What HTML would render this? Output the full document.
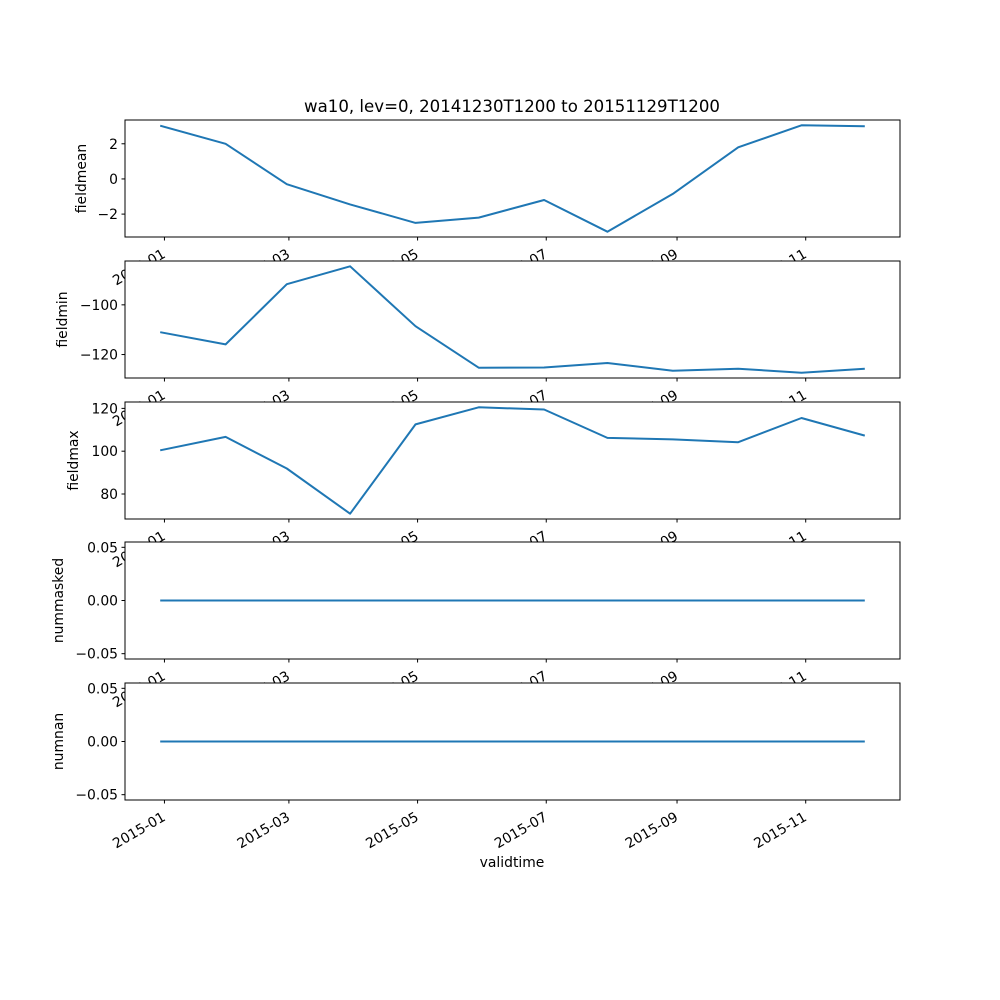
<!DOCTYPE html>
<html><head><meta charset="utf-8"><style>
body{margin:0;background:#fff}
svg{display:block;font-family:"DejaVu Sans","Liberation Sans",sans-serif}
</style></head><body>
<svg id="chart" width="1000" height="1000" xmlns="http://www.w3.org/2000/svg">
<rect width="1000" height="1000" fill="#fff"/>
<text x="512" y="112" font-size="16.6" text-anchor="middle">wa10, lev=0, 20141230T1200 to 20151129T1200</text>
<text x="512" y="867" font-size="13.9" text-anchor="middle">validtime</text>
</svg>
<script>
// day offsets from 2015-01-01
const dates = [-2, 29, 58, 88, 119, 149, 180, 210, 241, 272, 302, 332];
const fieldmean = [3.03, 2.0, -0.3, -1.45, -2.5, -2.2, -1.2, -3.0, -0.85, 1.8, 3.05, 3.0];
const fieldmin = [-111, -115.9, -91.7, -84.5, -108.6, -125.3, -125.2, -123.4, -126.5, -125.7, -127.3, -125.7];
const fieldmax = [100.4, 106.7, 91.9, 70.8, 112.5, 120.5, 119.5, 106.2, 105.5, 104.2, 115.5, 107.3];
const nummasked = [0,0,0,0,0,0,0,0,0,0,0,0];
const numnan = [0,0,0,0,0,0,0,0,0,0,0,0];
const xTickDays = [0, 59, 120, 181, 243, 304];
const xTickLabels = ["2015-01","2015-03","2015-05","2015-07","2015-09","2015-11"];
const panelNames = ["fieldmean","fieldmin","fieldmax","nummasked","numnan"];
const panelTicks = [[-2,0,2],[-120,-100],[80,100,120],[-0.05,0,0.05],[-0.05,0,0.05]];
const panelTickLabels = [["\u22122","0","2"],["\u2212120","\u2212100"],["80","100","120"],["\u22120.05","0.00","0.05"],["\u22120.05","0.00","0.05"]];

const NS="http://www.w3.org/2000/svg";
const svg=document.getElementById('chart');
function mk(t,a){const e=document.createElementNS(NS,t);for(const k in a)e.setAttribute(k,a[k]);return e;}
const L=125,R=900,tops=[120,261,402,542,683],H=117;
const ylx=[86,67,78,63,63];
const dmin=Math.min(...dates),dmax=Math.max(...dates),dm=(dmax-dmin)*0.05;
const X=d=>L+(d-(dmin-dm))/((dmax+dm)-(dmin-dm))*(R-L);
const series=[fieldmean,fieldmin,fieldmax,nummasked,numnan];
series.forEach((vals,i)=>{
  const top=tops[i],bot=top+H;
  let lo=Math.min(...vals),hi=Math.max(...vals);
  if(hi===lo){lo-=0.05;hi+=0.05;}
  const m=(hi-lo)*0.05;lo-=m;hi+=m;
  const Y=v=>bot-(v-lo)/(hi-lo)*H;
  const g=mk('g',{});
  
  
  svg.appendChild(g);
  const bg=mk('rect',{x:L,y:top,width:R-L,height:H,fill:'#fff'});
  
  
  g.appendChild(bg);
  const pts=dates.map((d,j)=>X(d).toFixed(1)+','+Y(vals[j]).toFixed(1)).join(' ');
  const line=mk('polyline',{points:pts,fill:'none',stroke:'#1f77b4','stroke-width':2,'stroke-linejoin':'round'});
  
  
  g.appendChild(line);
  const fr=mk('rect',{x:L,y:top,width:R-L,height:H,fill:'none',stroke:'#000','stroke-width':1});
  
  
  g.appendChild(fr);
  panelTicks[i].forEach((t,k)=>{
    const y=Y(t);
    g.appendChild(mk('line',{x1:L-3.5,x2:L,y1:y,y2:y,stroke:'#000'}));
    const tx=mk('text',{x:L-7,y:y+5,'font-size':13.9,'text-anchor':'end'});
    tx.textContent=panelTickLabels[i][k];
    
    
    g.appendChild(tx);
  });
  const yl=mk('text',{x:0,y:0,'font-size':13.9,'text-anchor':'middle',transform:`translate(${ylx[i]},${top+H/2}) rotate(-90)`});
  yl.textContent=panelNames[i];
  
  
  g.appendChild(yl);
  xTickDays.forEach((d,k)=>{
    const x=X(d);
    g.appendChild(mk('line',{x1:x,x2:x,y1:bot,y2:bot+3.5,stroke:'#000'}));
    const ax=x-3,ay=bot+11;
    const tx=mk('text',{x:ax,y:ay+10,'font-size':13.9,'text-anchor':'end',transform:`rotate(-30 ${ax} ${ay})`});
    tx.textContent=xTickLabels[k];
    
    
    g.appendChild(tx);
  });
});
</script>
</body></html>
